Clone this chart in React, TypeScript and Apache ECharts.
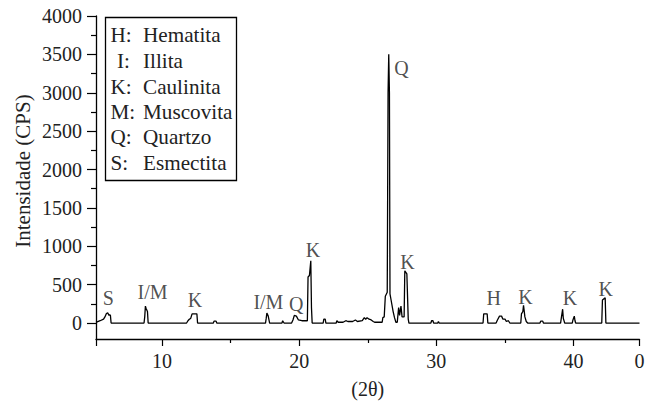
import React, { useEffect, useRef } from "react";
import * as echarts from "echarts";

const twoTheta = [
  5.2, 5.5, 5.75, 5.85, 5.95, 6.05, 6.15, 6.2, 6.25, 6.3,
  8.7, 8.75, 8.8, 8.85, 8.95, 9.0,
  11.8, 11.9, 12.0, 12.1, 12.2, 12.55, 12.6,
  13.75, 13.8, 13.95, 14.0,
  17.55, 17.6, 17.65, 17.75, 17.85,
  18.75, 18.8, 18.9,
  19.45, 19.55, 19.65, 19.8, 19.95, 20.2, 20.6,
  20.65, 20.75, 20.85, 20.9, 20.95,
  21.75, 21.8, 21.9, 21.95,
  22.7, 22.75, 22.85, 23.2, 23.4, 23.55, 23.9, 24.1, 24.25, 24.6, 24.75, 24.85, 24.95, 25.1, 25.25, 25.4, 25.5,
  26.05, 26.1, 26.2, 26.28, 26.42, 26.48, 26.53, 26.58, 26.62, 26.7, 26.85, 26.95, 27.05,
  27.15, 27.25, 27.32, 27.42, 27.5, 27.65, 27.7, 27.85, 27.95, 28.0,
  29.6, 29.65, 29.75, 29.8, 30.1, 30.15, 30.2,
  33.4, 33.45, 33.7, 33.75,
  34.35, 34.45, 34.6, 34.75, 34.85, 35.0, 35.1, 35.25, 35.35,
  36.15, 36.2, 36.3, 36.35, 36.45, 36.55, 36.65,
  37.55, 37.6, 37.75, 37.8,
  39.05, 39.1, 39.2, 39.25, 39.35,
  39.9, 39.95, 40.05, 40.1, 40.15,
  42.05, 42.1, 42.3, 42.35, 44.8,
];
const intensity = [
  10, 30, 50, 80, 120, 135, 100, 110, 100, 0,
  0, 80, 220, 190, 150, 0,
  0, 30, 50, 60, 120, 120, 0,
  0, 25, 25, 0,
  0, 60, 130, 90, 0,
  0, 30, 0,
  0, 40, 100, 90, 40, 30, 30,
  600, 620, 810, 200, 0,
  0, 50, 50, 0,
  0, 30, 10, 10, 30, 20, 20, 40, 20, 30, 70, 50, 70, 50, 40, 20, 10,
  10, 70, 80, 350, 400, 3000, 3500, 3000, 380, 300, 150, 70, 10,
  10, 200, 100, 220, 80, 80, 680, 640, 50, 0,
  0, 30, 30, 0, 0, 20, 0,
  0, 120, 120, 0,
  0, 40, 90, 90, 50, 50, 20, 30, 0,
  0, 120, 150, 230, 80, 20, 0,
  0, 25, 25, 0,
  0, 60, 180, 60, 0,
  0, 40, 90, 30, 0,
  0, 300, 330, 0, 0,
];

const peakTheta = [6.1, 9.32, 12.41, 17.76, 19.78, 21.0, 27.45, 27.9, 34.18, 36.5, 39.73, 42.34];
const peakHeight = [325, 407, 300, 277, 247, 950, 3320, 798, 321, 342, 330, 439];
const peakLabels = ["S", "I/M", "K", "I/M", "Q", "K", "Q", "K", "H", "K", "K", "K"];

const legendCodes = ["H:", "I:", "K:", "M:", "Q:", "S:"];
const legendNames = ["Hematita", "Illita", "Caulinita", "Muscovita", "Quartzo", "Esmectita"];

const xLabelValues = [10, 20, 30, 40, 44.8];
const xLabelTexts = ["10", "20", "30", "40", "0"];
const xMajorTicks = [5.2, 10, 20, 30, 40, 44.8];
const xMinorTicks = [15, 25, 35];
const yMajorTicks = [0, 500, 1000, 1500, 2000, 2500, 3000, 3500, 4000];
const yMinorTicks = [250, 750, 1250, 1750, 2250, 2750, 3250, 3750];

const FONT = "Liberation Serif";
const TEXT = "#222";

export default function App() {
  const ref = useRef<HTMLDivElement>(null);
  useEffect(() => {
    if (!ref.current) return;
    const chart = echarts.init(ref.current, null, { renderer: "svg" });
    const xMin = 5.2, xMax = 44.8, yMin = -208, yMax = 4000;
    const legendY = [35, 61, 87, 112, 137, 163];
    chart.setOption({
      animation: false,
      backgroundColor: "#fff",
      grid: { left: 96, right: 16.5, top: 16, bottom: 62, containLabel: false, outerBoundsMode: "none" },
      xAxis: [
        {
          type: "value", min: xMin, max: xMax,
          splitLine: { show: false },
          axisLine: { show: true, onZero: false, lineStyle: { color: "#000", width: 1.3 } },
          axisTick: { show: true, customValues: xMajorTicks, length: 7, lineStyle: { color: "#000", width: 1.2 } },
          axisLabel: {
            show: true, customValues: xLabelValues, margin: 12,
            fontFamily: FONT, fontSize: 20, color: TEXT,
            formatter: (v: number) => {
              const i = xLabelValues.findIndex((x) => Math.abs(x - v) < 1e-6);
              return i >= 0 ? xLabelTexts[i] : "";
            },
          },
          name: "(2θ)", nameLocation: "middle", nameGap: 40,
          nameTextStyle: { fontFamily: FONT, fontSize: 20, color: TEXT },
        },
        {
          type: "value", min: xMin, max: xMax, position: "bottom",
          splitLine: { show: false },
          axisLine: { show: false, onZero: false },
          axisTick: { show: true, customValues: xMinorTicks, length: 4, lineStyle: { color: "#000", width: 1.2 } },
          axisLabel: { show: false },
        },
      ],
      yAxis: [
        {
          type: "value", min: yMin, max: yMax,
          splitLine: { show: false },
          axisLine: { show: true, onZero: false, lineStyle: { color: "#000", width: 1.3 } },
          axisTick: { show: true, customValues: yMajorTicks, length: 9, lineStyle: { color: "#000", width: 1.2 } },
          axisLabel: {
            show: true, customValues: yMajorTicks, margin: 14,
            fontFamily: FONT, fontSize: 20, color: TEXT,
            formatter: (v: number) => String(v),
          },
        },
        {
          type: "value", min: yMin, max: yMax, position: "left",
          splitLine: { show: false },
          axisLine: { show: false, onZero: false },
          axisTick: { show: true, customValues: yMinorTicks, length: 5, lineStyle: { color: "#000", width: 1.2 } },
          axisLabel: { show: false },
        },
      ],
      graphic: [
        {
          type: "text", x: 23, y: 171, rotation: Math.PI / 2,
          style: {
            text: "Intensidade (CPS)", fontFamily: FONT, fontSize: 21, fill: TEXT,
            align: "center", verticalAlign: "middle",
          },
        },
        {
          type: "rect", shape: { x: 105.5, y: 17.5, width: 131, height: 163 },
          style: { fill: "#fff", stroke: "#000", lineWidth: 1.3 },
        },
        ...legendCodes.map((c, i) => ({
          type: "text", x: c === "I:" ? 117 : 110.5, y: legendY[i], scaleX: 1.06,
          style: { text: c, fontFamily: FONT, fontSize: 20, fill: TEXT, verticalAlign: "middle" },
        })),
        ...legendNames.map((n, i) => ({
          type: "text", x: 143, y: legendY[i], scaleX: 1.06,
          style: { text: n, fontFamily: FONT, fontSize: 20, fill: TEXT, verticalAlign: "middle" },
        })),
      ],
      series: [
        {
          type: "line",
          data: twoTheta.map((t, i) => [t, intensity[i]]),
          showSymbol: false,
          symbol: "none",
          lineStyle: { color: "#000", width: 1.3 },
          clip: true,
        },
        {
          type: "scatter",
          data: peakTheta.map((t, i) => ({ value: [t, peakHeight[i]], name: peakLabels[i] })),
          symbolSize: 2,
          itemStyle: { color: "rgba(0,0,0,0)" },
          label: {
            show: true, position: "inside",
            formatter: (p: any) => p.name,
            fontFamily: FONT, fontSize: 20, color: TEXT,
          },
          silent: true,
        },
      ],
    });
    return () => chart.dispose();
  }, []);
  return <div ref={ref} style={{ position: "fixed", left: 0, top: 0, width: 656, height: 401 }} />;
}
